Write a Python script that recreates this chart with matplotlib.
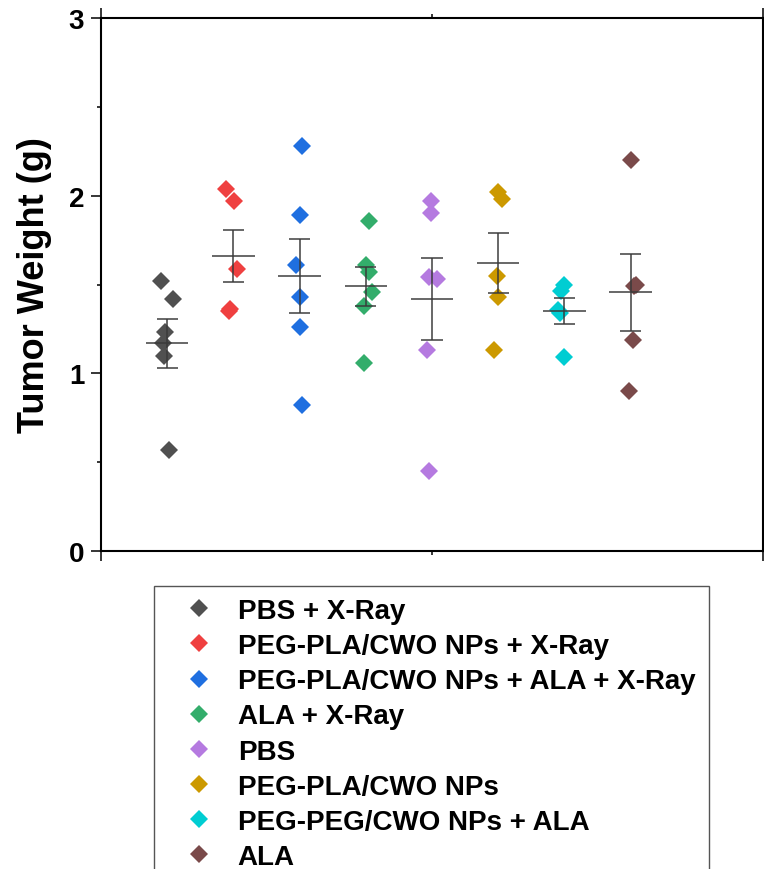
import numpy as np
import matplotlib
matplotlib.use("Agg")
import matplotlib.pyplot as plt
from matplotlib.patches import Rectangle

plt.rcParams['font.family'] = ['Liberation Sans', 'DejaVu Sans']
plt.rcParams['font.weight'] = 'bold'

groups = ["PBS + X-Ray", "PEG-PLA/CWO NPs + X-Ray", "PEG-PLA/CWO NPs + ALA + X-Ray",
          "ALA + X-Ray", "PBS", "PEG-PLA/CWO NPs", "PEG-PEG/CWO NPs + ALA", "ALA"]
colors = ["#505050", "#ef4040", "#1f6fe0", "#33ad6b", "#b57ae0", "#cc9900", "#00cdd2", "#7a4a4a"]

g1 = [1.52, 1.42, 1.23, 1.17, 1.10, 0.57]
g2 = [2.04, 1.97, 1.59, 1.36, 1.35]
g3 = [2.28, 1.89, 1.61, 1.43, 1.26, 0.82]
g4 = [1.86, 1.61, 1.57, 1.46, 1.38, 1.06]
g5 = [1.97, 1.90, 1.54, 1.53, 1.13, 0.45]
g6 = [2.02, 1.98, 1.55, 1.43, 1.13]
g7 = [1.50, 1.465, 1.355, 1.34, 1.09]
g8 = [2.20, 1.50, 1.49, 1.19, 0.90]
values = [g1, g2, g3, g4, g5, g6, g7, g8]

# horizontal jitter of the points
j1 = [-0.10, 0.09, -0.03, -0.07, -0.05, 0.02]
j2 = [-0.11, 0.01, 0.05, -0.05, -0.07]
j3 = [0.04, 0.00, -0.06, 0.00, 0.00, 0.03]
j4 = [0.05, 0.00, 0.05, 0.10, -0.03, -0.02]
j5 = [-0.02, -0.02, -0.04, 0.08, -0.07, -0.04]
j6 = [0.00, 0.05, -0.02, -0.01, -0.06]
j7 = [0.00, -0.05, -0.09, -0.06, 0.00]
j8 = [0.00, 0.08, 0.05, 0.03, -0.02]
jitters = [j1, j2, j3, j4, j5, j6, j7, j8]

positions = [1, 2, 3, 4, 5, 6, 7, 8]

fig = plt.figure(figsize=(7.64, 8.70), dpi=100)
ax = fig.add_axes([101/764, 1-552/870, (763-101)/764, (552-19)/870])

handles = []
for pos, vals, jit, col, name in zip(positions, values, jitters, colors, groups):
    v = np.array(vals)
    x = pos + np.array(jit)
    h, = ax.plot(x, v, linestyle='none', marker='D', markersize=9.2,
                 color=col, markeredgewidth=0, label=name, zorder=2)
    handles.append(h)
    m = v.mean()
    sem = v.std(ddof=1) / np.sqrt(len(v))
    ec = '#3a3a3a'
    ax.hlines(m, pos - 0.32, pos + 0.32, color=ec, lw=1.2, alpha=0.9, zorder=3)
    ax.vlines(pos, m - sem, m + sem, color=ec, lw=1.2, alpha=0.9, zorder=3)
    ax.hlines([m - sem, m + sem], pos - 0.16, pos + 0.16, color=ec, lw=1.2, alpha=0.9, zorder=3)

ax.set_xlim(0, 10)
ax.set_ylim(0, 3)
ax.set_xticks([0, 10])
ax.set_xticks([5], minor=True)
ax.set_xticklabels([])
ax.set_yticks([0, 1, 2, 3])
ax.set_yticks([0.5, 1.5, 2.5], minor=True)
ax.tick_params(axis='y', which='major', direction='out', length=7, width=1.1,
               labelsize=20, pad=5, left=True, right=False)
ax.tick_params(axis='y', which='minor', direction='out', length=3, width=1.1, left=True, right=False)
ax.tick_params(axis='x', which='major', direction='out', length=7, width=1.1,
               bottom=True, top=True, labelbottom=False)
ax.tick_params(axis='x', which='minor', direction='out', length=3, width=1.1,
               bottom=True, top=True, labelbottom=False)
for lab in ax.get_yticklabels():
    lab.set_fontweight('bold')
for s in ax.spines.values():
    s.set_linewidth(1.5)
    s.set_color('black')

ax.set_ylabel("Tumor Weight (g)", fontsize=26, fontweight='bold', labelpad=12)

# legend
leg = fig.legend(handles=handles, labels=groups, loc='upper left',
                 bbox_to_anchor=(185/764, 1-599/870), frameon=False,
                 handlelength=1.0, handletextpad=0.9,
                 labelspacing=0.33, borderpad=0, borderaxespad=0,
                 prop={'weight': 'bold', 'size': 20}, markerscale=1.0)
fig.patches.append(Rectangle((154/764, -0.05), (709-154)/764, 1-587/870+0.05,
                             transform=fig.transFigure, fill=False,
                             edgecolor='#555555', lw=1.0))

fig.savefig("out.png", dpi=100)
